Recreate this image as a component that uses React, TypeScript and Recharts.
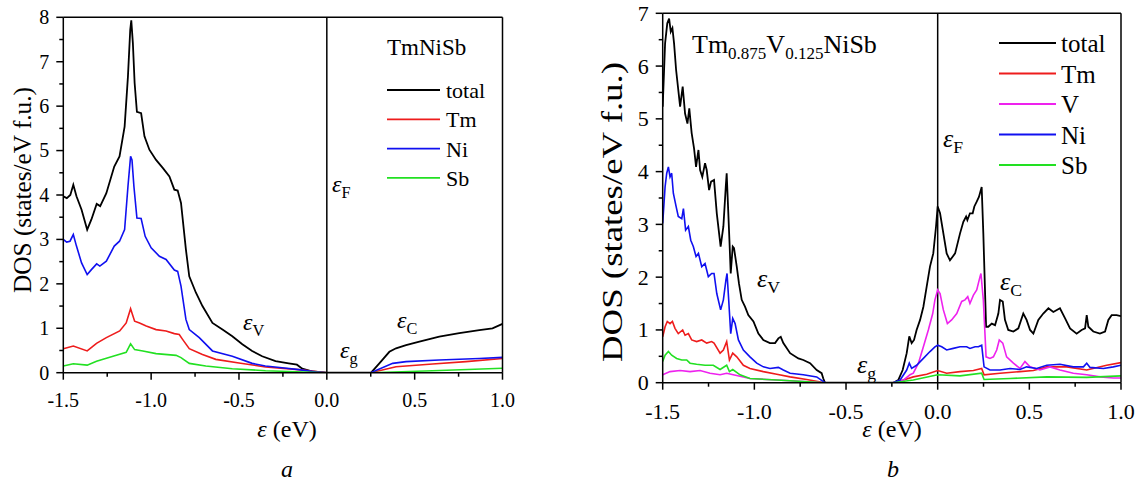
import { LineChart, Line, XAxis, YAxis, ReferenceLine } from "recharts"

const SERIF = "'Liberation Serif', 'DejaVu Serif', serif"

// panel a: TmNiSb, [energy (eV), DOS]
const aTotal = [
  [-1.5, 3.97], [-1.48, 3.93], [-1.46, 4.0], [-1.443, 4.23], [-1.425, 3.97], [-1.396, 3.67], [-1.364, 3.22],
  [-1.34, 3.45], [-1.31, 3.8], [-1.29, 3.75], [-1.255, 4.04], [-1.21, 4.64], [-1.18, 4.87], [-1.151, 5.54],
  [-1.132, 6.67], [-1.119, 7.72], [-1.113, 7.93], [-1.104, 7.42], [-1.094, 6.52], [-1.081, 5.87], [-1.057, 5.84],
  [-1.038, 5.32], [-1.01, 5.02], [-0.972, 4.79], [-0.934, 4.61], [-0.896, 4.42], [-0.868, 4.12], [-0.849, 4.1],
  [-0.83, 3.82], [-0.802, 2.77], [-0.783, 2.17], [-0.745, 1.8], [-0.708, 1.5], [-0.651, 1.12], [-0.594, 0.97],
  [-0.538, 0.82], [-0.481, 0.64], [-0.425, 0.49], [-0.368, 0.37], [-0.292, 0.26], [-0.217, 0.21], [-0.17, 0.18],
  [-0.14, 0.09], [-0.085, 0.03], [0, 0], [0.252, 0], [0.299, 0.21], [0.356, 0.47], [0.394, 0.55], [0.451, 0.62],
  [0.527, 0.7], [0.64, 0.81], [0.754, 0.89], [0.868, 0.96], [0.943, 1.0], [1.0, 1.1],
]
const aTm = [
  [-1.5, 0.54], [-1.443, 0.6], [-1.364, 0.49], [-1.311, 0.66], [-1.255, 0.79], [-1.179, 0.94], [-1.142, 1.12],
  [-1.117, 1.44], [-1.094, 1.16], [-1.066, 1.12], [-1.028, 1.05], [-0.972, 0.97], [-0.915, 0.94], [-0.868, 0.88],
  [-0.84, 0.86], [-0.821, 0.75], [-0.783, 0.54], [-0.708, 0.41], [-0.632, 0.3], [-0.5, 0.22], [-0.349, 0.13],
  [-0.16, 0.07], [0, 0], [0.25, 0], [0.394, 0.135], [0.602, 0.195], [0.792, 0.25], [1.0, 0.32],
]
const aNi = [
  [-1.5, 3.0], [-1.481, 2.94], [-1.462, 2.96], [-1.443, 3.11], [-1.425, 2.85], [-1.396, 2.47], [-1.364, 2.21],
  [-1.34, 2.32], [-1.31, 2.45], [-1.292, 2.4], [-1.255, 2.51], [-1.21, 2.85], [-1.18, 2.96], [-1.151, 3.22],
  [-1.132, 4.19], [-1.117, 4.87], [-1.109, 4.79], [-1.098, 4.19], [-1.081, 3.48], [-1.057, 3.47], [-1.034, 3.07],
  [-1.0, 2.81], [-0.953, 2.62], [-0.915, 2.55], [-0.868, 2.31], [-0.849, 2.28], [-0.83, 1.95], [-0.802, 1.2],
  [-0.783, 0.97], [-0.726, 0.79], [-0.651, 0.49], [-0.538, 0.37], [-0.425, 0.21], [-0.35, 0.15], [-0.255, 0.11],
  [-0.16, 0.07], [-0.066, 0.02], [0, 0], [0.25, 0], [0.375, 0.21], [0.451, 0.25], [0.64, 0.285], [0.868, 0.32],
  [1.0, 0.345],
]
const aSb = [
  [-1.5, 0.15], [-1.443, 0.2], [-1.364, 0.17], [-1.311, 0.26], [-1.217, 0.37], [-1.142, 0.46], [-1.117, 0.65],
  [-1.094, 0.52], [-1.047, 0.49], [-0.972, 0.43], [-0.858, 0.39], [-0.83, 0.34], [-0.783, 0.21], [-0.689, 0.15],
  [-0.538, 0.09], [-0.349, 0.045], [0, 0], [0.25, 0], [0.602, 0.045], [1.0, 0.1],
]

// panel b: Tm0.875V0.125NiSb
const bTotal = [
  [-1.5, 5.23], [-1.487, 6.43], [-1.475, 6.81], [-1.465, 6.9], [-1.456, 6.65], [-1.447, 6.72], [-1.438, 6.43],
  [-1.427, 5.93], [-1.415, 5.55], [-1.405, 5.23], [-1.391, 5.61], [-1.378, 5.1], [-1.365, 4.91], [-1.355, 5.2],
  [-1.342, 4.73], [-1.329, 4.44], [-1.318, 4.09], [-1.305, 4.41], [-1.296, 4.03], [-1.284, 3.9], [-1.269, 4.16],
  [-1.26, 4.03], [-1.247, 3.65], [-1.236, 3.81], [-1.22, 3.84], [-1.205, 3.21], [-1.184, 2.58], [-1.169, 2.96],
  [-1.156, 3.71], [-1.151, 3.97], [-1.145, 3.46], [-1.136, 2.7], [-1.129, 2.07], [-1.118, 2.58], [-1.111, 2.55],
  [-1.096, 2.2], [-1.084, 1.88], [-1.069, 1.57], [-1.051, 1.44], [-1.033, 1.28], [-1.005, 1.16], [-0.978, 0.93],
  [-0.951, 0.81], [-0.915, 0.75], [-0.887, 0.75], [-0.869, 0.84], [-0.856, 0.87], [-0.842, 0.75], [-0.805, 0.56],
  [-0.76, 0.46], [-0.733, 0.43], [-0.696, 0.37], [-0.66, 0.24], [-0.633, 0.18], [-0.624, 0.08], [-0.615, 0],
  [-0.242, 0], [-0.215, 0.05], [-0.191, 0.24], [-0.169, 0.56], [-0.155, 0.88], [-0.142, 0.75], [-0.129, 0.81],
  [-0.115, 1.0], [-0.096, 1.19], [-0.078, 1.44], [-0.06, 1.82], [-0.042, 2.2], [-0.024, 2.45], [-0.009, 2.96],
  [0, 3.34], [0.013, 3.21], [0.031, 2.83], [0.049, 2.45], [0.067, 2.32], [0.095, 2.45], [0.122, 2.83],
  [0.14, 3.05], [0.155, 3.15], [0.162, 3.08], [0.176, 3.21], [0.191, 3.21], [0.2, 3.34], [0.213, 3.43],
  [0.225, 3.52], [0.24, 3.71], [0.249, 2.83], [0.264, 1.06], [0.276, 1.06], [0.295, 1.12], [0.313, 1.09],
  [0.331, 1.31], [0.34, 1.57], [0.355, 1.54], [0.367, 1.19], [0.385, 1.0], [0.413, 0.97], [0.44, 1.03],
  [0.467, 1.31], [0.485, 1.19], [0.504, 1.0], [0.522, 0.93], [0.549, 1.19], [0.576, 1.31], [0.604, 1.41],
  [0.631, 1.34], [0.667, 1.41], [0.695, 1.22], [0.722, 1.03], [0.758, 0.93], [0.785, 1.0], [0.804, 1.03],
  [0.813, 1.28], [0.822, 1.06], [0.849, 0.97], [0.885, 0.93], [0.913, 0.97], [0.931, 1.19], [0.949, 1.28],
  [0.976, 1.28], [1.0, 1.26],
]
const bTm = [
  [-1.5, 0.87], [-1.487, 1.06], [-1.475, 1.16], [-1.46, 1.12], [-1.447, 1.16], [-1.433, 1.03], [-1.415, 0.93],
  [-1.391, 1.0], [-1.378, 0.9], [-1.36, 0.93], [-1.342, 0.81], [-1.315, 0.78], [-1.287, 0.81], [-1.26, 0.75],
  [-1.233, 0.78], [-1.22, 0.75], [-1.187, 0.56], [-1.169, 0.62], [-1.151, 0.78], [-1.136, 0.43], [-1.118, 0.56],
  [-1.096, 0.49], [-1.06, 0.33], [-1.024, 0.27], [-0.951, 0.21], [-0.878, 0.16], [-0.805, 0.11], [-0.715, 0.06],
  [-0.615, 0], [-0.242, 0], [-0.187, 0.05], [-0.133, 0.11], [-0.06, 0.16], [0, 0.23], [0.049, 0.18],
  [0.122, 0.21], [0.195, 0.23], [0.24, 0.27], [0.253, 0.15], [0.34, 0.18], [0.449, 0.21], [0.522, 0.23],
  [0.595, 0.3], [0.704, 0.3], [0.813, 0.24], [0.922, 0.33], [1.0, 0.38],
]
const bV = [
  [-1.5, 0.15], [-1.46, 0.21], [-1.405, 0.23], [-1.351, 0.21], [-1.296, 0.23], [-1.242, 0.18], [-1.187, 0.15],
  [-1.151, 0.18], [-1.115, 0.15], [-1.024, 0.08], [-0.878, 0.05], [-0.615, 0], [-0.242, 0], [-0.187, 0.05],
  [-0.151, 0.15], [-0.133, 0.18], [-0.105, 0.37], [-0.078, 0.68], [-0.051, 1.0], [-0.027, 1.31], [-0.015, 1.57],
  [0, 1.76], [0.013, 1.69], [0.031, 1.38], [0.053, 1.12], [0.076, 1.19], [0.104, 1.31], [0.131, 1.54],
  [0.149, 1.57], [0.164, 1.63], [0.176, 1.5], [0.195, 1.66], [0.213, 1.76], [0.231, 2.01], [0.236, 2.07],
  [0.249, 1.57], [0.264, 0.49], [0.285, 0.46], [0.304, 0.49], [0.322, 0.62], [0.336, 0.81], [0.355, 0.75],
  [0.376, 0.49], [0.413, 0.37], [0.449, 0.27], [0.476, 0.4], [0.504, 0.3], [0.558, 0.24], [0.613, 0.3],
  [0.667, 0.24], [0.74, 0.18], [0.813, 0.15], [0.885, 0.11], [0.958, 0.09], [1.0, 0.09],
]
const bNi = [
  [-1.5, 3.02], [-1.487, 3.71], [-1.478, 3.97], [-1.469, 4.09], [-1.46, 3.9], [-1.451, 3.97], [-1.442, 3.59],
  [-1.427, 3.34], [-1.415, 3.15], [-1.396, 3.11], [-1.387, 3.3], [-1.375, 2.89], [-1.36, 2.96], [-1.347, 2.7],
  [-1.333, 2.58], [-1.318, 2.39], [-1.305, 2.45], [-1.287, 2.2], [-1.269, 2.26], [-1.251, 2.01], [-1.233, 2.07],
  [-1.22, 2.07], [-1.205, 1.69], [-1.184, 1.38], [-1.169, 1.57], [-1.155, 1.95], [-1.149, 2.07], [-1.14, 1.57],
  [-1.129, 0.93], [-1.118, 1.22], [-1.105, 1.12], [-1.087, 0.81], [-1.06, 0.62], [-1.024, 0.49], [-0.987, 0.37],
  [-0.951, 0.3], [-0.915, 0.27], [-0.869, 0.29], [-0.842, 0.24], [-0.805, 0.18], [-0.733, 0.15], [-0.66, 0.11],
  [-0.615, 0], [-0.242, 0], [-0.205, 0.05], [-0.169, 0.24], [-0.155, 0.37], [-0.142, 0.27], [-0.115, 0.33],
  [-0.078, 0.46], [-0.042, 0.59], [-0.015, 0.68], [0, 0.71], [0.022, 0.68], [0.049, 0.62], [0.085, 0.65],
  [0.122, 0.68], [0.158, 0.68], [0.176, 0.65], [0.204, 0.68], [0.222, 0.68], [0.24, 0.71], [0.253, 0.3],
  [0.285, 0.24], [0.34, 0.24], [0.395, 0.27], [0.449, 0.25], [0.485, 0.3], [0.54, 0.27], [0.595, 0.33],
  [0.667, 0.35], [0.74, 0.3], [0.795, 0.3], [0.813, 0.37], [0.831, 0.29], [0.904, 0.27], [0.958, 0.3],
  [1.0, 0.33],
]
const bSb = [
  [-1.5, 0.4], [-1.487, 0.52], [-1.469, 0.59], [-1.451, 0.52], [-1.424, 0.46], [-1.396, 0.43], [-1.369, 0.43],
  [-1.351, 0.37], [-1.315, 0.35], [-1.269, 0.33], [-1.224, 0.33], [-1.187, 0.25], [-1.151, 0.33], [-1.136, 0.21],
  [-1.118, 0.25], [-1.078, 0.15], [-1.024, 0.08], [-0.878, 0.05], [-0.615, 0], [-0.242, 0], [-0.133, 0.05],
  [0, 0.15], [0.122, 0.13], [0.24, 0.18], [0.253, 0.06], [0.395, 0.08], [0.595, 0.11], [0.813, 0.1], [1.0, 0.13],
]

const xTicks = [-1.5, -1.25, -1, -0.75, -0.5, -0.25, 0, 0.25, 0.5, 0.75, 1]
const aYTicks = [0, 0.5, 1, 1.5, 2, 2.5, 3, 3.5, 4, 4.5, 5, 5.5, 6, 6.5, 7, 7.5, 8]
const bYTicks = [0, 0.5, 1, 1.5, 2, 2.5, 3, 3.5, 4, 4.5, 5, 5.5, 6, 6.5, 7]

const aLegend = ["total", "Tm", "Ni", "Sb"]
const bLegend = ["total", "Tm", "V", "Ni", "Sb"]
const COLORS: Record<string, string> = {
  total: "#000000",
  Tm: "#ee1c1c",
  V: "#ee22ee",
  Ni: "#1010f0",
  Sb: "#22e022",
}

const pts = (arr: number[][]) => arr.map(([x, y]) => ({ x, y }))

const onStep = (v: number, step: number) => Math.abs(v / step - Math.round(v / step)) < 1e-6

function BottomTick(props: any) {
  const { x, y, payload, fontSize, labelDy } = props
  const major = onStep(payload.value, 0.5)
  return (
    <g>
      <line x1={x} x2={x} y1={y} y2={y + (major ? 7 : 4)} stroke="#000" strokeWidth={1.5} />
      {major && (
        <text x={x} y={y + labelDy} textAnchor="middle" fontSize={fontSize} fontFamily={SERIF} fill="#000">
          {payload.value.toFixed(1)}
        </text>
      )}
    </g>
  )
}

function TopTick(props: any) {
  const { x, y, payload } = props
  const major = onStep(payload.value, 0.5)
  return <line x1={x} x2={x} y1={y} y2={y + (major ? 8 : 5)} stroke="#000" strokeWidth={1.5} />
}

function LeftTick(props: any) {
  const { x, y, payload, fontSize, gap } = props
  const major = onStep(payload.value, 1)
  return (
    <g>
      <line x1={x} x2={x - (major ? 7 : 4)} y1={y} y2={y} stroke="#000" strokeWidth={1.5} />
      {major && (
        <text x={x - gap} y={y + fontSize * 0.34} textAnchor="end" fontSize={fontSize} fontFamily={SERIF} fill="#000">
          {payload.value}
        </text>
      )}
    </g>
  )
}

function RightTick(props: any) {
  const { x, y, payload } = props
  const major = onStep(payload.value, 1)
  return <line x1={x} x2={x - (major ? 8 : 5)} y1={y} y2={y} stroke="#000" strokeWidth={1.5} />
}

function Panel(props: {
  width: number
  height: number
  margin: { top: number; right: number; bottom: number; left: number }
  yMax: number
  yTicks: number[]
  series: { name: string; data: number[][] }[]
  fontSize: number
  labelDy: number
}) {
  const { width, height, margin, yMax, yTicks, series, fontSize, labelDy } = props
  const axis = { stroke: "#000", strokeWidth: 1.5 }
  return (
    <LineChart width={width} height={height} margin={margin}>
      <XAxis
        dataKey="x"
        type="number"
        domain={[-1.5, 1]}
        ticks={xTicks}
        interval={0}
        height={30}
        tickSize={0}
        tickMargin={0}
        axisLine={axis}
        tickLine={false}
        tick={(p: any) => <BottomTick {...p} fontSize={fontSize} labelDy={labelDy} />}
        allowDataOverflow
      />
      <XAxis
        xAxisId="top"
        orientation="top"
        type="number"
        domain={[-1.5, 1]}
        ticks={xTicks}
        interval={0}
        height={5}
        tickSize={0}
        tickMargin={0}
        axisLine={axis}
        tickLine={false}
        tick={(p: any) => <TopTick {...p} />}
      />
      <YAxis
        type="number"
        domain={[0, yMax]}
        ticks={yTicks}
        interval={0}
        width={40}
        tickSize={0}
        tickMargin={0}
        axisLine={axis}
        tickLine={false}
        tick={(p: any) => <LeftTick {...p} fontSize={fontSize} gap={14} />}
        allowDataOverflow
      />
      <YAxis
        yAxisId="right"
        orientation="right"
        type="number"
        domain={[0, yMax]}
        ticks={yTicks}
        interval={0}
        width={10}
        tickSize={0}
        tickMargin={0}
        axisLine={axis}
        tickLine={false}
        tick={(p: any) => <RightTick {...p} />}
      />
      <ReferenceLine x={0} stroke="#000" strokeWidth={1.5} />
      {series.map((s) => (
        <Line
          key={s.name}
          data={pts(s.data)}
          dataKey="y"
          type="linear"
          stroke={COLORS[s.name]}
          strokeWidth={s.name === "total" ? 1.8 : 1.6}
          dot={false}
          activeDot={false}
          isAnimationActive={false}
        />
      ))}
    </LineChart>
  )
}

function Eps(props: { x: number; y: number; sub: string; size: number; subDy?: number }) {
  const { x, y, sub, size, subDy = 6 } = props
  return (
    <text x={x} y={y} fontFamily={SERIF} fontSize={size} fill="#000">
      <tspan fontStyle="italic">ε</tspan>
      <tspan fontSize={size * 0.68} dy={subDy}>{sub}</tspan>
    </text>
  )
}

export default function App() {
  return (
    <div style={{ position: "absolute", left: 0, top: 0, width: 1139, height: 486, background: "#fff" }}>
      <div style={{ position: "absolute", left: 0, top: 0 }}>
        <Panel
          width={560}
          height={486}
          margin={{ top: 12.3, right: 47.5, bottom: 83.3, left: 23.3 }}
          yMax={8}
          yTicks={aYTicks}
          series={[
            { name: "total", data: aTotal },
            { name: "Tm", data: aTm },
            { name: "Ni", data: aNi },
            { name: "Sb", data: aSb },
          ]}
          fontSize={20}
          labelDy={34}
        />
      </div>
      <div style={{ position: "absolute", left: 580, top: 0 }}>
        <Panel
          width={559}
          height={486}
          margin={{ top: 8.3, right: 8, bottom: 73.3, left: 42.7 }}
          yMax={7}
          yTicks={bYTicks}
          series={[
            { name: "total", data: bTotal },
            { name: "Tm", data: bTm },
            { name: "V", data: bV },
            { name: "Ni", data: bNi },
            { name: "Sb", data: bSb },
          ]}
          fontSize={22}
          labelDy={36}
        />
      </div>
      <svg
        width={1139}
        height={486}
        style={{ position: "absolute", left: 0, top: 0, pointerEvents: "none" }}
      >
        {/* panel a */}
        <text
          transform="translate(31,190) rotate(-90)"
          textAnchor="middle"
          fontFamily={SERIF}
          fontSize={25}
          textLength={206}
          lengthAdjust="spacingAndGlyphs"
        >
          DOS (states/eV f.u.)
        </text>
        <text x={287} y={437} textAnchor="middle" fontFamily={SERIF} fontSize={24}>
          <tspan fontStyle="italic">ε</tspan> (eV)
        </text>
        <text x={287} y={477} textAnchor="middle" fontFamily={SERIF} fontSize={24} fontStyle="italic">a</text>
        <text x={387} y={55} fontFamily={SERIF} fontSize={23}>TmNiSb</text>
        {aLegend.map((k, i) => (
          <g key={k}>
            <line x1={387} x2={440} y1={90 + i * 29.3} y2={90 + i * 29.3} stroke={COLORS[k]} strokeWidth={1.8} />
            <text x={446} y={98 + i * 29.3} fontFamily={SERIF} fontSize={22}>{k}</text>
          </g>
        ))}
        <Eps x={332} y={192} sub="F" size={24} />
        <Eps x={243} y={330} sub="V" size={24} />
        <Eps x={340} y={358} sub="g" size={24} />
        <Eps x={397} y={328} sub="C" size={24} />

        {/* panel b */}
        <text
          transform="translate(622,212) rotate(-90)"
          textAnchor="middle"
          fontFamily={SERIF}
          fontSize={29}
          textLength={300}
          lengthAdjust="spacingAndGlyphs"
        >
          DOS (states/eV f.u.)
        </text>
        <text x={892} y={437} textAnchor="middle" fontFamily={SERIF} fontSize={24}>
          <tspan fontStyle="italic">ε</tspan> (eV)
        </text>
        <text x={893} y={477} textAnchor="middle" fontFamily={SERIF} fontSize={24} fontStyle="italic">b</text>
        <text x={692} y={53} fontFamily={SERIF} fontSize={26}>
          Tm<tspan fontSize={17} dy={6}>0.875</tspan>
          <tspan dy={-6}>V</tspan>
          <tspan fontSize={17} dy={6}>0.125</tspan>
          <tspan dy={-6}>NiSb</tspan>
        </text>
        {bLegend.map((k, i) => (
          <g key={k}>
            <line x1={999} x2={1056} y1={43 + i * 30.5} y2={43 + i * 30.5} stroke={COLORS[k]} strokeWidth={1.8} />
            <text x={1061} y={52 + i * 30.5} fontFamily={SERIF} fontSize={25}>{k}</text>
          </g>
        ))}
        <Eps x={943} y={147} sub="F" size={26} />
        <Eps x={757} y={287} sub="V" size={26} />
        <Eps x={857} y={373} sub="g" size={26} />
        <Eps x={1000} y={290} sub="C" size={26} />
      </svg>
    </div>
  )
}
